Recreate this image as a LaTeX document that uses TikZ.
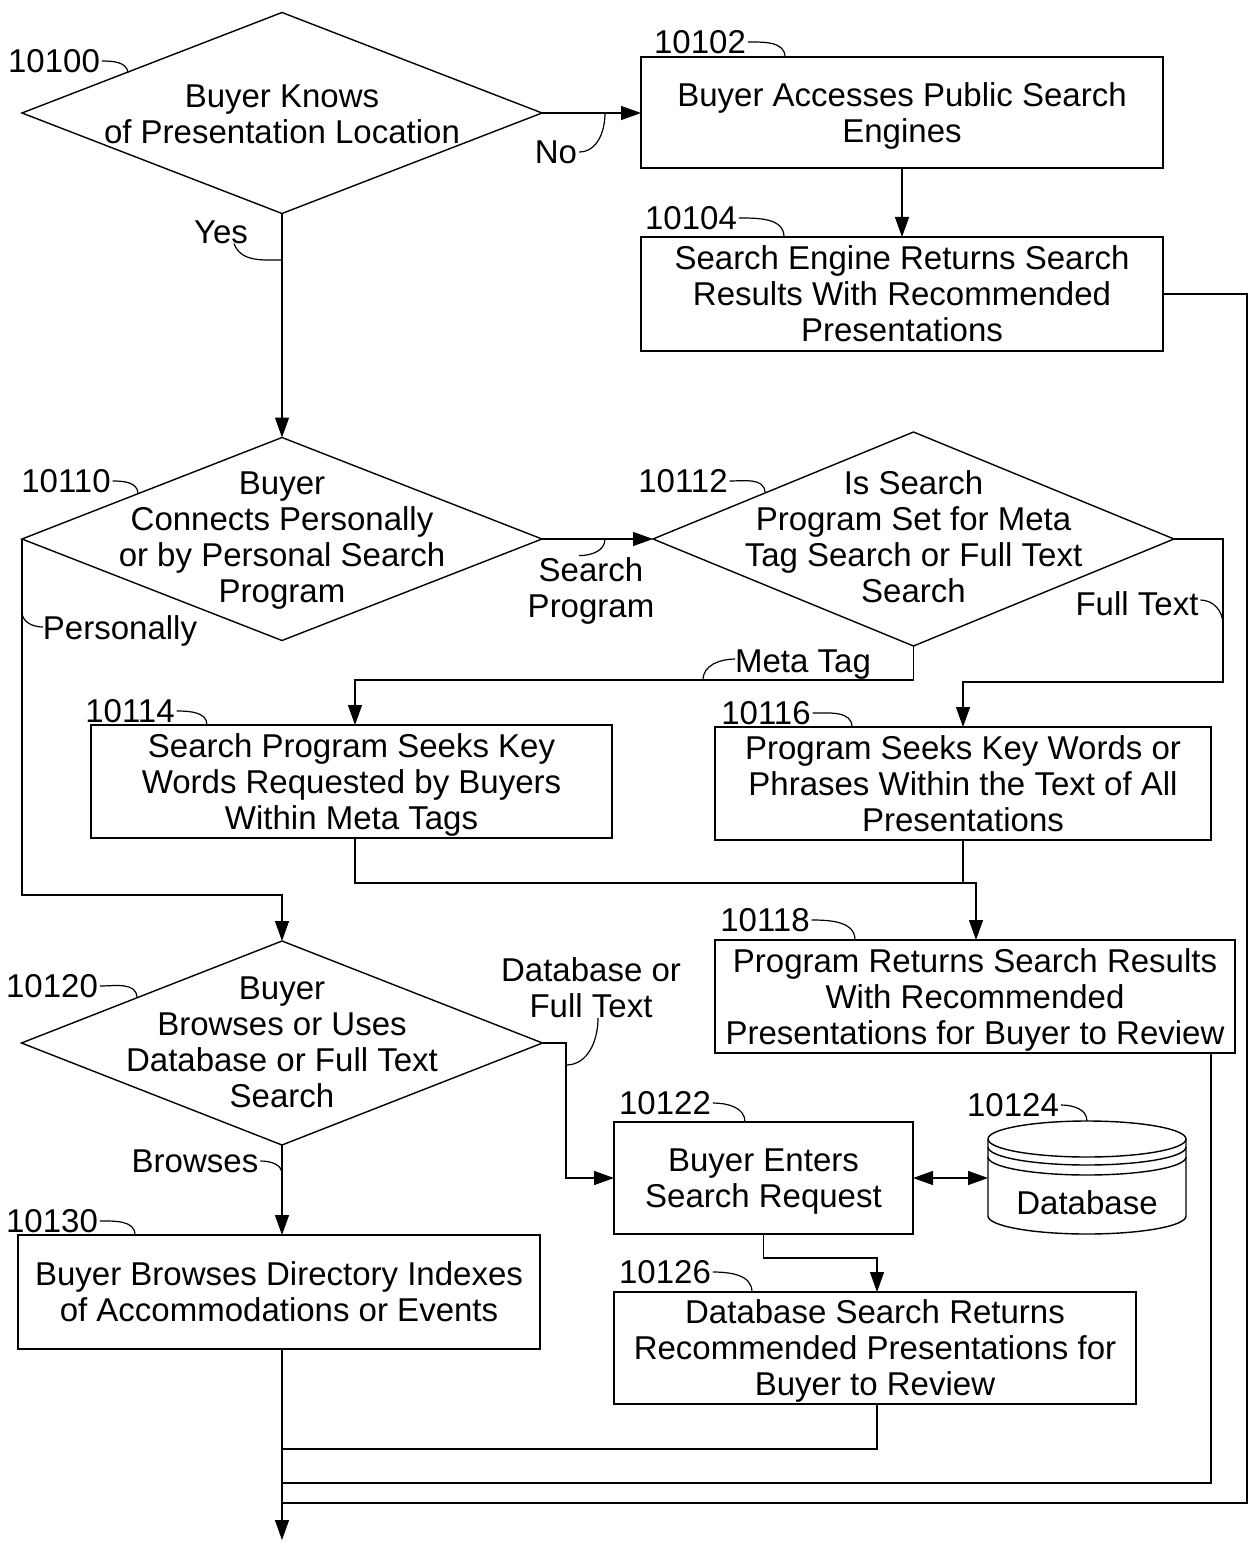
\documentclass[tikz,border=0pt]{standalone}
\usepackage{fontspec}
\setmainfont{Liberation Sans}
\usetikzlibrary{shapes.geometric,arrows.meta}

\begin{document}
\begin{tikzpicture}[x=0.5pt,y=-0.5pt,
  every node/.style={font=\fontsize{16.5}{18}\selectfont, inner sep=0pt, outer sep=0pt},
  box/.style 2 args={draw, line width=0.7pt, rectangle, align=center, text depth=0pt,
    minimum width=#1*0.5pt, minimum height=#2*0.5pt},
  decision/.style 2 args={draw, line width=0.7pt, diamond,
    minimum width=#1*0.5pt, minimum height=#2*0.5pt},
  dtext/.style={align=center},
  flow/.style={line width=0.7pt},
  tip/.tip={Triangle[length=10pt,width=7pt]},
  arr/.style={flow, -tip},
  lead/.style={line width=0.6pt},
]
\useasboundingbox (0,0) rectangle (1249,1551);

% decisions and process boxes
\node[decision={520}{201}] (d1) at (282,113) {};
\node[dtext] (d1t) at (282,114) {Buyer Knows\\of Presentation Location};
\node[box={522}{111}] (b1) at (902,112.5) {Buyer Accesses Public Search\\Engines};
\node[box={522}{114}] (b2) at (902,294) {Search Engine Returns Search\\Results With Recommended\\Presentations};
\node[decision={520}{203}] (d2) at (282,539) {};
\node[dtext] (d2t) at (282,541) {Buyer\\Connects Personally\\or by Personal Search\\Program};
\node[decision={521}{214}] (d3) at (913.5,539) {};
\node[dtext] (d3t) at (913.5,537) {Is Search\\Program Set for Meta\\Tag Search or Full Text\\Search};
\node[box={521}{113}] (b3) at (351.5,781.5) {Search Program Seeks Key\\Words Requested by Buyers\\Within Meta Tags};
\node[box={496}{113}] (b4) at (963,783.5) {Program Seeks Key Words or\\Phrases Within the Text of All\\Presentations};
\node[box={520}{113}] (b5) at (975,996.5) {Program Returns Search Results\\With Recommended\\Presentations for Buyer to Review};
\node[decision={521}{204}] (d4) at (282,1043) {};
\node[dtext] (d4t) at (282,1042) {Buyer\\Browses or Uses\\Database or Full Text\\Search};
\node[box={299}{112}] (b6) at (763.5,1178) {Buyer Enters\\Search Request};
\node[box={522}{114}] (b7) at (279,1292) {Buyer Browses Directory Indexes\\of Accommodations or Events};
\node[box={522}{112}] (b8) at (875,1348) {Database Search Returns\\Recommended Presentations for\\Buyer to Review};

% database cylinder
\node[minimum width=99pt, minimum height=56pt] (db) at (1087,1177) {};
\draw[flow] (988,1139) -- (988,1216) arc[start angle=180, end angle=360, x radius=49.5pt, y radius=9pt] -- (1186,1139);
\draw[flow] (1087,1139) ellipse [x radius=49.5pt, y radius=9pt];
\draw[flow] (988,1147) arc[start angle=180, end angle=360, x radius=49.5pt, y radius=9pt];
\draw[flow] (988,1157) arc[start angle=180, end angle=360, x radius=49.5pt, y radius=9pt];
\node (dbt) at (1087,1203) {Database};
\coordinate (dbw) at (988,1178);

% routing points
\coordinate (rA) at (1247,1503);
\coordinate (jA) at (282,1503);
\coordinate (ft) at (1223,682);
\coordinate (mt) at (355,680);
\coordinate (pA) at (22,895);
\coordinate (jn) at (976,883);
\coordinate (rB) at (1211,1483);
\coordinate (jB) at (282,1483);
\coordinate (dx) at (566,1178);
\coordinate (k) at (877,1258);
\coordinate (rC) at (877,1449);
\coordinate (jC) at (282,1449);
\coordinate (out) at (282,1540);

% connectors
\draw[arr] (d1.east) -- (b1.west |- d1.east);
\draw[arr] (b1.south) -- (b2.north);
\draw[arr] (d1.south) -- (d2.north);
\draw[flow] (b2.east) -| (rA) -- (jA);
\draw[arr] (d2.east) -- (d3.west);
\draw[arr] (d3.east) -| (ft) -| (b4.north);
\draw[arr] (d3.south) |- (mt) -- (mt |- b3.north);
\draw[arr] (d2.west) -- (pA) -| (d4.north);
\draw[arr] (mt |- b3.south) |- (jn) -- (jn |- b5.north);
\draw[flow] (b4.south) -- (b4.south |- jn);
\draw[flow] (rB |- b5.south) -- (rB) -- (jB);
\draw[arr] (d4.east) -| (dx) -- (b6.west);
\draw[arr] (d4.south) -- (d4.south |- b7.north);
\draw[flow, tip-tip] (b6.east) -- (dbw);
\draw[arr] (b6.south) |- (k) -- (k |- b8.north);
\draw[flow] (k |- b8.south) -- (rC) -- (jC);
\draw[arr] (d4.south |- b7.south) -- (out);

% branch labels
\node (lno) at (556,152) {No};
\draw[lead] ([xshift=1pt]lno.east) to[out=0,in=-90] (605,113);
\node (lyes) at (221,232) {Yes};
\draw[lead] ([xshift=6.5pt]lyes.south) to[out=-70,in=180] (282,260);
\node[align=center] (lsp) at (591,591) {Search\\Program};
\draw[lead] ([xshift=-6pt,yshift=1pt]lsp.north) to[out=0,in=-90] (605,539);
\node (lmt) at (803,665) {Meta Tag};
\draw[lead] ([yshift=3pt]lmt.west) to[out=180,in=90] (703,680);
\node (lft) at (1137,604) {Full Text};
\draw[lead] ([xshift=1pt,yshift=2pt]lft.east) to[out=0,in=90] (1223,624);
\node (lper) at (120,631) {Personally};
\draw[lead] (22,612) to[out=-90,in=180] ([yshift=2pt]lper.west);
\node[align=center] (ldb) at (591,988) {Database or\\Full Text};
\draw[lead] ([xshift=3.5pt]ldb.south) to[out=-90,in=0] (566,1065);
\node (lbr) at (195,1161) {Browses};
\draw[lead] ([xshift=1pt]lbr.east) to[out=0,in=90] (282,1174);

% reference numerals
\node (n10100) at (54,61) {10100};
\draw[lead] ([xshift=1pt]n10100.east) to[out=0,in=95] (128,73);
\node (n10102) at (700,42) {10102};
\draw[lead] ([xshift=1pt]n10102.east) to[out=0,in=90] (785,0 |- b1.north);
\node (n10104) at (691,218) {10104};
\draw[lead] ([xshift=1pt]n10104.east) to[out=0,in=90] (784,0 |- b2.north);
\node (n10110) at (66,481) {10110};
\draw[lead] ([xshift=1pt]n10110.east) to[out=0,in=95] (138,493);
\node (n10112) at (683,481) {10112};
\draw[lead] ([xshift=1pt]n10112.east) to[out=0,in=95] (765,492);
\node (n10114) at (130,711) {10114};
\draw[lead] ([xshift=1pt]n10114.east) to[out=0,in=90] (207,0 |- b3.north);
\node (n10116) at (766,713) {10116};
\draw[lead] ([xshift=1pt]n10116.east) to[out=0,in=90] (852,0 |- b4.north);
\node (n10118) at (765,920) {10118};
\draw[lead] ([xshift=1pt]n10118.east) to[out=0,in=90] (855,0 |- b5.north);
\node (n10120) at (52,986) {10120};
\draw[lead] ([xshift=1pt]n10120.east) to[out=0,in=95] (137,997);
\node (n10122) at (665,1103) {10122};
\draw[lead] ([xshift=1pt]n10122.east) to[out=0,in=90] (745,0 |- b6.north);
\node (n10124) at (1013,1105) {10124};
\draw[lead] ([xshift=1pt]n10124.east) to[out=0,in=90] (1087,1121);
\node (n10126) at (665,1272) {10126};
\draw[lead] ([xshift=1pt]n10126.east) to[out=0,in=90] (752,0 |- b8.north);
\node (n10130) at (52,1221) {10130};
\draw[lead] ([xshift=1pt]n10130.east) to[out=0,in=90] (135,0 |- b7.north);
\end{tikzpicture}
\end{document}
